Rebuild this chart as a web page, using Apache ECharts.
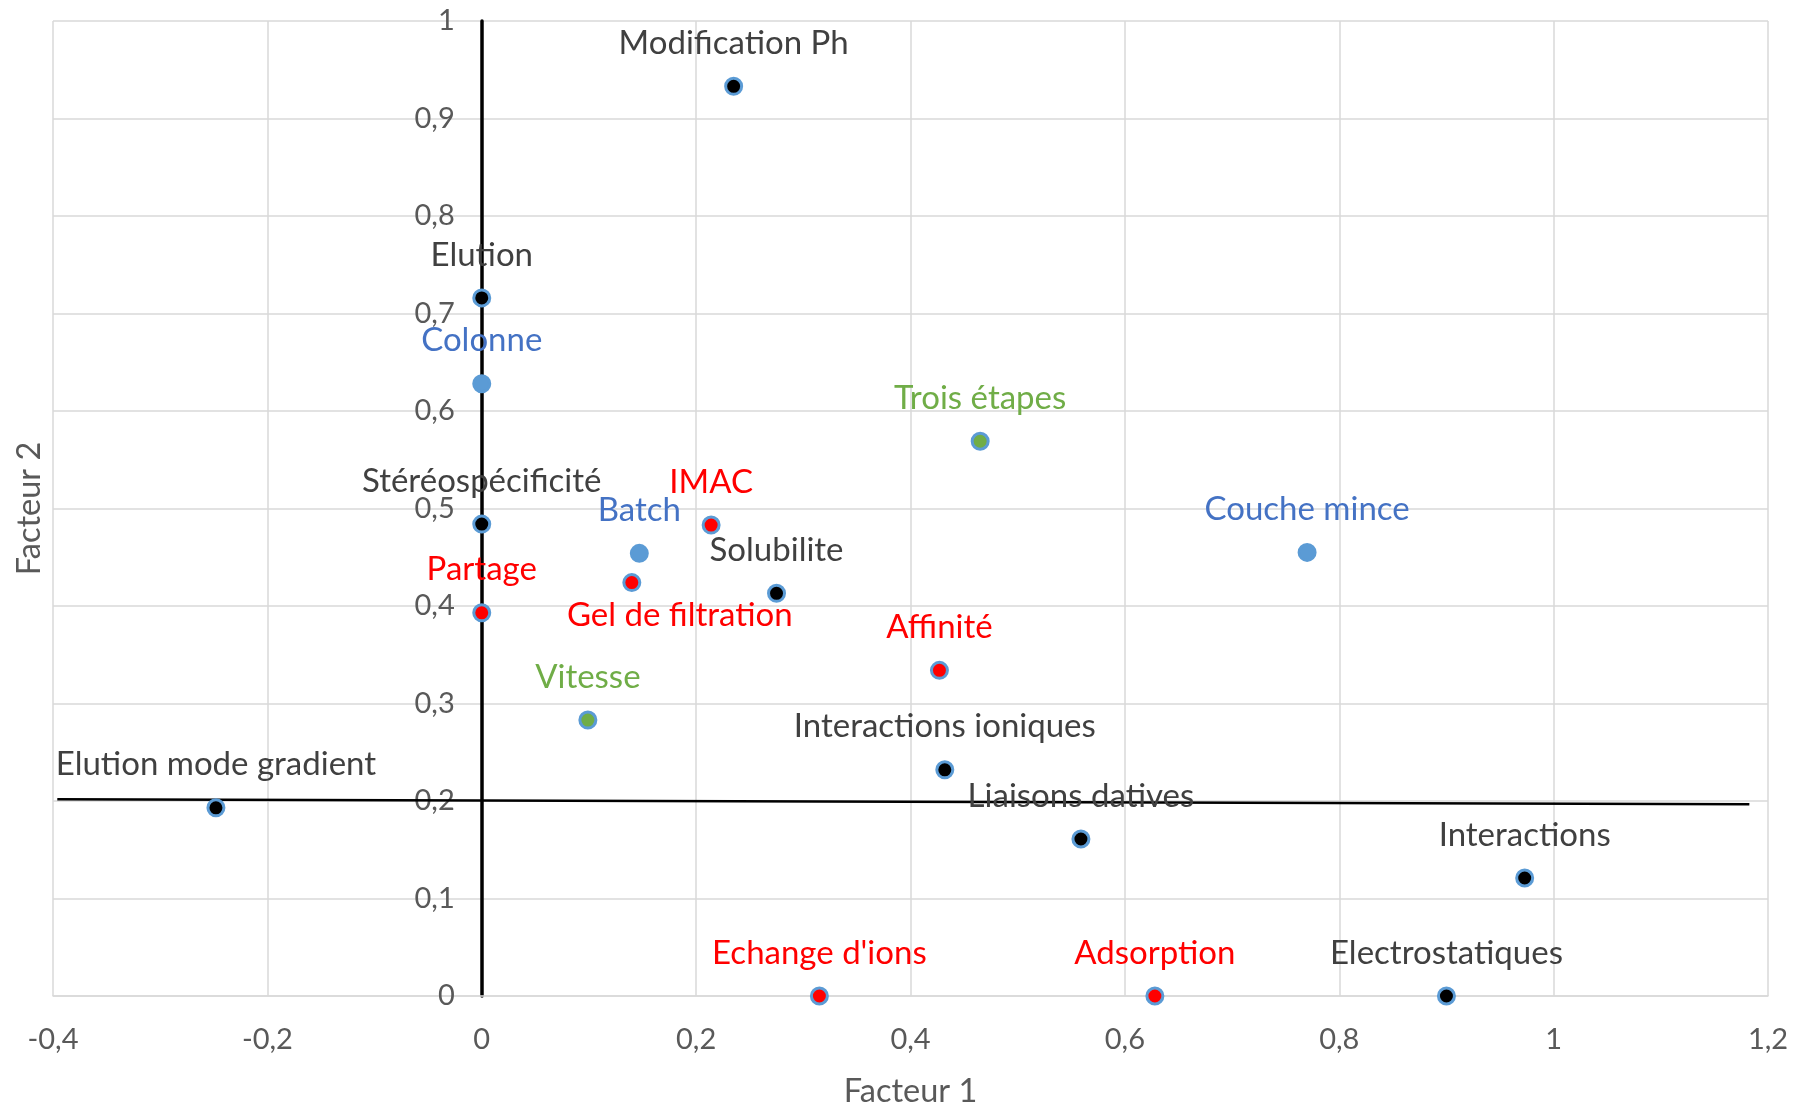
<!DOCTYPE html>
<html>
<head>
<meta charset="utf-8">
<script src="https://cdn.jsdelivr.net/npm/echarts@6/dist/echarts.min.js"></script>
<style>
  html, body { margin: 0; padding: 0; background: #ffffff; }
  #chart { width: 1793px; height: 1103px; }
</style>
</head>
<body>
<div id="chart"></div>
<script>
// ---- Data ----
const labels = [
  "Modification Ph", "Elution", "Colonne", "Trois étapes", "Stéréospécificité",
  "IMAC", "Batch", "Couche mince", "Partage", "Gel de filtration",
  "Solubilite", "Affinité", "Vitesse", "Interactions ioniques", "Elution mode gradient",
  "Liaisons datives", "Interactions", "Echange d'ions", "Adsorption", "Electrostatiques"
];
const factor1 = [
  0.235, 0.0, 0.0, 0.465, 0.0,
  0.214, 0.147, 0.770, 0.0, 0.140,
  0.275, 0.427, 0.099, 0.432, -0.248,
  0.559, 0.973, 0.315, 0.628, 0.900
];
const factor2 = [
  0.933, 0.716, 0.628, 0.569, 0.484,
  0.483, 0.454, 0.455, 0.393, 0.424,
  0.413, 0.334, 0.283, 0.232, 0.193,
  0.161, 0.121, 0.0, 0.0, 0.0
];
const groups = [
  "noir", "noir", "bleu", "vert", "noir",
  "rouge", "bleu", "bleu", "rouge", "rouge",
  "noir", "rouge", "vert", "noir", "noir",
  "noir", "noir", "rouge", "rouge", "noir"
];
const xTicks = [-0.4, -0.2, 0, 0.2, 0.4, 0.6, 0.8, 1, 1.2];
const yTicks = [0, 0.1, 0.2, 0.3, 0.4, 0.5, 0.6, 0.7, 0.8, 0.9, 1];
// hand-drawn horizontal reference line (data coordinates of its two ends)
const hLineStart = [-0.396, 0.2017];
const hLineEnd = [1.1826, 0.1966];

// ---- Styles / layout ----
const fillColors = { noir: "#000000", rouge: "#FF0000", vert: "#70AD47", bleu: "#5B9BD5" };
const textColors = { noir: "#404040", rouge: "#FF0000", vert: "#70AD47", bleu: "#4472C4" };
const specialOffsets = { "Gel de filtration": [48, 33] };
const defaultOffset = [0, -43];
const FONT = "Lato, 'Open Sans', sans-serif";
const fmt = v => String(+(+v).toFixed(2)).replace('.', ',');

const W = 1793, GRID_L = 53, GRID_R = 25;
const xMin = xTicks[0], xMax = xTicks[xTicks.length - 1];
// vertical axis crosses the horizontal one at Facteur 1 = 0
const yAxisOffset = -((0 - xMin) / (xMax - xMin)) * (W - GRID_L - GRID_R);

const points = labels.map((name, i) => ({
  name: name,
  value: [factor1[i], factor2[i]],
  itemStyle: { color: fillColors[groups[i]] },
  label: { color: textColors[groups[i]] }
}));

const chart = echarts.init(document.getElementById('chart'), null, { renderer: 'canvas' });
chart.setOption({
  animation: false,
  backgroundColor: '#ffffff',
  grid: { left: GRID_L, right: GRID_R, top: 21, bottom: 107, containLabel: false, outerBoundsMode: 'none' },
  xAxis: {
    type: 'value',
    min: xMin,
    max: xMax,
    interval: 0.2,
    name: 'Facteur 1',
    nameLocation: 'middle',
    nameGap: 79,
    nameTextStyle: { fontFamily: FONT, fontSize: 32.5, color: '#595959' },
    axisLine: { show: true, onZero: false, lineStyle: { color: '#D9D9D9', width: 1.5 } },
    axisTick: { show: false },
    axisLabel: { fontFamily: FONT, fontSize: 29, color: '#595959', margin: 29, formatter: fmt },
    splitLine: { show: true, lineStyle: { color: '#D9D9D9', width: 1.5 } }
  },
  yAxis: {
    type: 'value',
    position: 'left',
    offset: yAxisOffset,
    min: yTicks[0],
    max: yTicks[yTicks.length - 1],
    interval: 0.1,
    name: 'Facteur 2',
    nameLocation: 'middle',
    nameGap: 436,
    nameRotate: 90,
    nameTextStyle: { fontFamily: FONT, fontSize: 32.5, color: '#595959' },
    axisLine: { show: true, onZero: false, lineStyle: { color: '#000000', width: 3.5 } },
    axisTick: { show: false },
    axisLabel: { fontFamily: FONT, fontSize: 29, color: '#595959', margin: 27, formatter: fmt },
    splitLine: { show: true, lineStyle: { color: '#D9D9D9', width: 1.5 } }
  },
  series: [
    {
      type: 'scatter',
      name: 'points',
      symbol: 'circle',
      symbolSize: 16,
      z: 5,
      itemStyle: { borderColor: '#5B9BD5', borderWidth: 3, opacity: 1 },
      label: {
        show: true,
        position: 'inside',
        formatter: '{b}',
        fontFamily: FONT,
        fontSize: 33
      },
      labelLayout: function (params) {
        const name = labels[params.dataIndex];
        const off = specialOffsets[name] || defaultOffset;
        return {
          x: params.rect.x + params.rect.width / 2 + off[0],
          y: params.rect.y + params.rect.height / 2 + off[1],
          align: 'center',
          verticalAlign: 'middle',
          hideOverlap: false
        };
      },
      emphasis: { disabled: true },
      data: points,
      markLine: {
        silent: true,
        symbol: ['none', 'none'],
        label: { show: false },
        lineStyle: { color: '#000000', width: 2.5, type: 'solid' },
        data: [[{ coord: hLineStart }, { coord: hLineEnd }]]
      }
    }
  ]
});
</script>
</body>
</html>
